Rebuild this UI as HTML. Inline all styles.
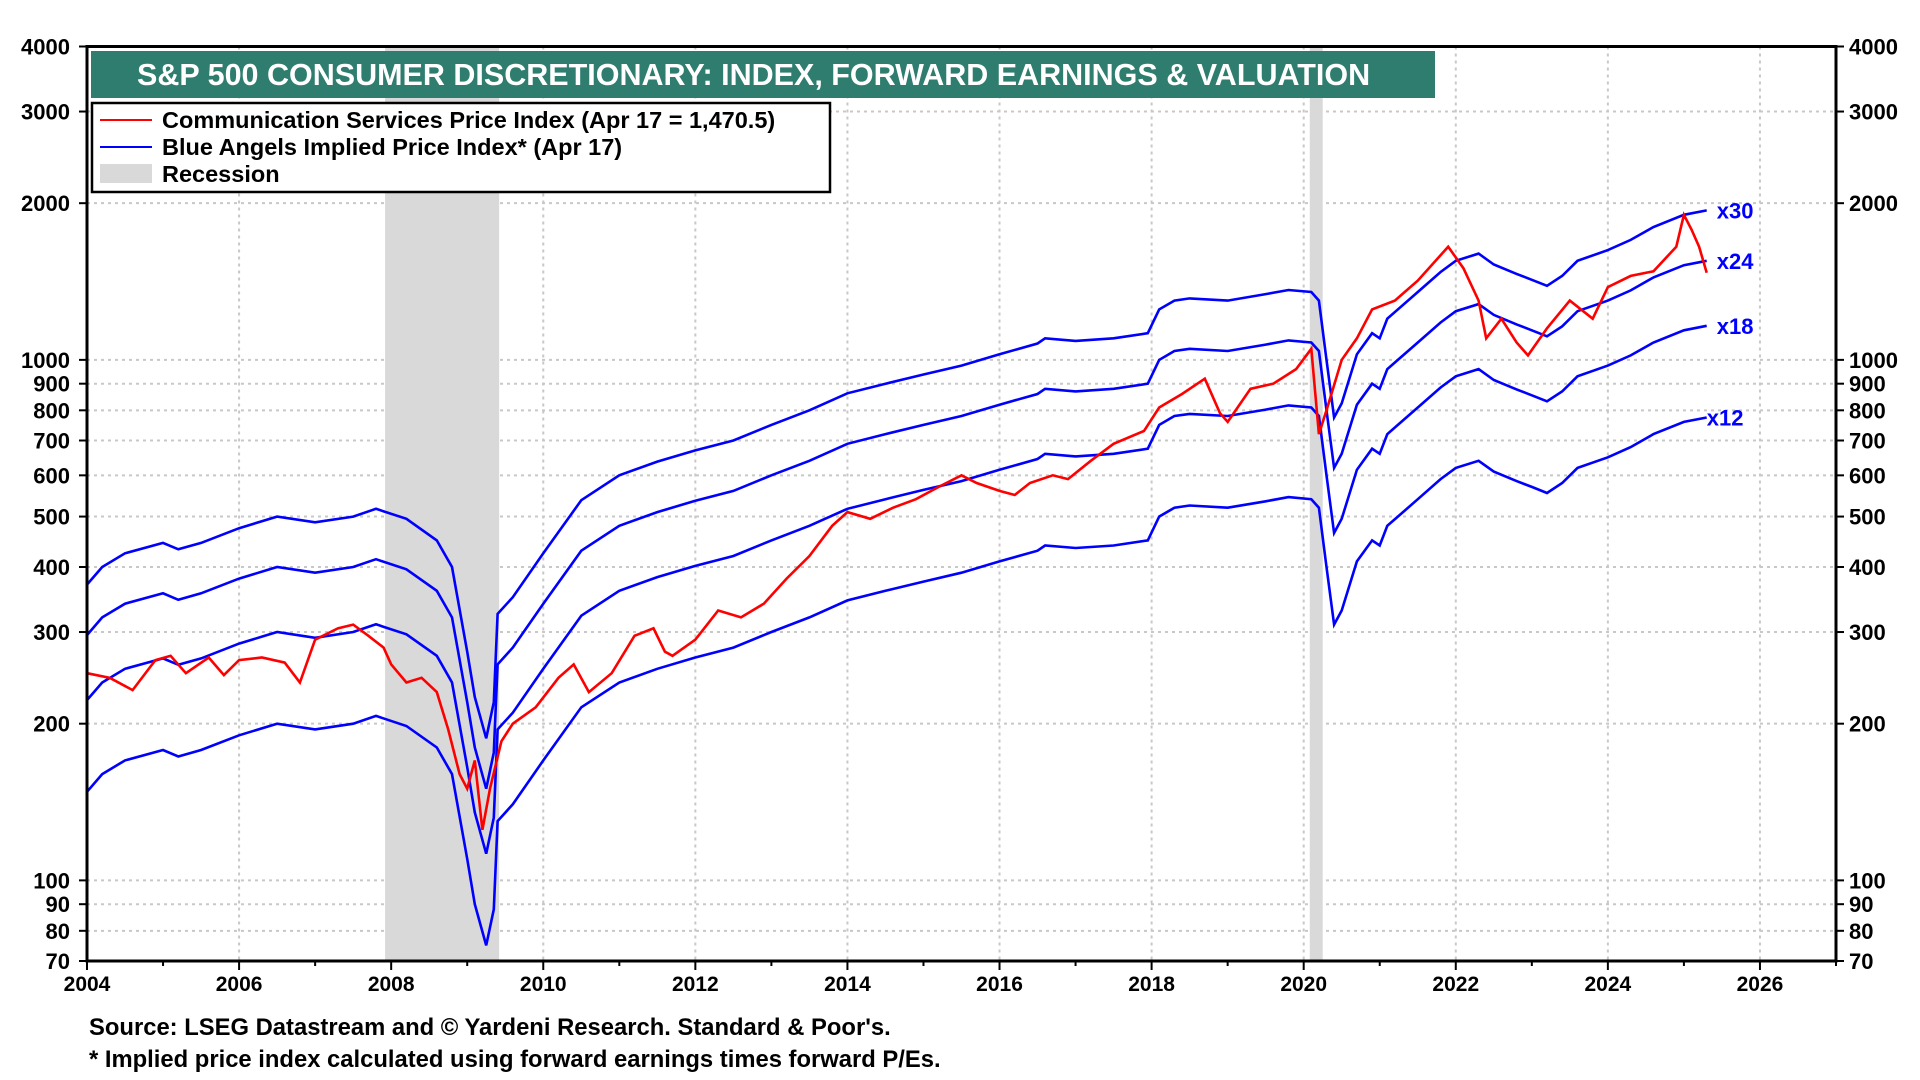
<!DOCTYPE html>
<html><head><meta charset="utf-8"><style>
body{margin:0;background:#fff;font-family:"Liberation Sans",Arial,sans-serif}
svg{display:block}
</style></head><body>
<svg id="chart" width="1920" height="1080" viewBox="0 0 1920 1080">
<g id="grid"></g>
<g id="rec"></g>
<g id="lines"></g>
<rect x="87" y="46.5" width="1749" height="914.5" fill="none" stroke="#000" stroke-width="3"/>
<g id="axes"></g>
<rect x="91" y="51" width="1344" height="47" fill="#2e7d6e"/>
<text x="137" y="85" fill="#fff" font-size="30.5" font-weight="bold">S&amp;P 500 CONSUMER DISCRETIONARY: INDEX, FORWARD EARNINGS &amp; VALUATION</text>
<g>
<rect x="92" y="103" width="738" height="89" fill="#fff" stroke="#000" stroke-width="2.5"/>
<line x1="100" y1="120" x2="152" y2="120" stroke="#f00" stroke-width="2"/>
<text x="162" y="128" font-size="23.5" font-weight="bold">Communication Services Price Index (Apr 17 = 1,470.5)</text>
<line x1="100" y1="147" x2="152" y2="147" stroke="#00f" stroke-width="2"/>
<text x="162" y="155" font-size="23.5" font-weight="bold">Blue Angels Implied Price Index* (Apr 17)</text>
<rect x="100" y="164" width="52" height="19" fill="#d9d9d9"/>
<text x="162" y="182" font-size="23.5" font-weight="bold">Recession</text>
</g>
<text x="89" y="1035" font-size="23.8" font-weight="bold">Source: LSEG Datastream and © Yardeni Research. Standard &amp; Poor's.</text>
<text x="89" y="1067" font-size="23.8" font-weight="bold">* Implied price index calculated using forward earnings times forward P/Es.</text>
</svg>
<script>
const yTicks=[4000,3000,2000,1000,900,800,700,600,500,400,300,200,100,90,80,70];
const xTicks=[2004,2006,2008,2010,2012,2014,2016,2018,2020,2022,2024,2026];
const recessions=[[2007.92,2009.42],[2020.08,2020.25]];
const multiples=[12,18,24,30];
const epsDates=[2004.0,2004.2,2004.5,2005.0,2005.2,2005.5,2006.0,2006.5,2007.0,2007.5,2007.8,2008.2,2008.6,2008.8,2009.0,2009.1,2009.25,2009.35,2009.4,2009.6,2010.0,2010.5,2011.0,2011.5,2012.0,2012.5,2013.0,2013.5,2014.0,2014.5,2015.0,2015.5,2016.0,2016.5,2016.6,2017.0,2017.5,2017.95,2018.1,2018.3,2018.5,2019.0,2019.5,2019.8,2020.1,2020.2,2020.3,2020.4,2020.5,2020.7,2020.9,2021.0,2021.1,2021.5,2021.8,2022.0,2022.3,2022.5,2022.8,2023.0,2023.2,2023.4,2023.6,2024.0,2024.3,2024.6,2025.0,2025.3];
const impliedX12=[148,160,170,178,173,178,190,200,195,200,207,198,180,160,110,90,75,88,130,140,170,215,240,255,268,280,300,320,345,360,375,390,410,430,440,435,440,450,500,520,525,520,535,545,540,520,400,310,330,410,450,440,480,540,590,620,640,610,585,570,555,580,620,650,680,720,760,775];
const priceDates=[2004.0,2004.3,2004.6,2004.9,2005.1,2005.3,2005.6,2005.8,2006.0,2006.3,2006.6,2006.8,2007.0,2007.3,2007.5,2007.7,2007.9,2008.0,2008.2,2008.4,2008.6,2008.75,2008.9,2009.0,2009.1,2009.2,2009.3,2009.45,2009.6,2009.9,2010.2,2010.4,2010.6,2010.9,2011.2,2011.45,2011.6,2011.7,2012.0,2012.3,2012.6,2012.9,2013.2,2013.5,2013.8,2014.0,2014.3,2014.6,2014.9,2015.2,2015.5,2015.7,2016.0,2016.2,2016.4,2016.7,2016.9,2017.2,2017.5,2017.9,2018.1,2018.4,2018.7,2018.9,2019.0,2019.3,2019.6,2019.9,2020.1,2020.2,2020.3,2020.5,2020.7,2020.9,2021.2,2021.5,2021.9,2022.1,2022.3,2022.4,2022.6,2022.8,2022.95,2023.2,2023.5,2023.8,2024.0,2024.3,2024.6,2024.9,2025.0,2025.1,2025.2,2025.3];
const priceValues=[250,245,232,265,270,250,268,248,265,268,262,240,290,305,310,295,280,260,240,245,230,195,160,150,170,125,150,185,200,215,245,260,230,250,295,305,275,270,290,330,320,340,380,420,480,510,495,520,540,570,600,580,560,550,580,600,590,640,690,730,810,860,920,790,760,880,900,960,1050,720,800,1000,1100,1250,1300,1420,1650,1500,1300,1100,1200,1080,1020,1150,1300,1200,1380,1450,1480,1650,1900,1780,1650,1470];
const multLabels=["x12","x18","x24","x30"];

const L=87,R=1836,T=46.5,B=961,X0=2004,X1=2027,YMAX=4000,YMIN=70;
const xs=v=>L+(v-X0)/(X1-X0)*(R-L);
const ys=v=>T+Math.log(YMAX/v)/Math.log(YMAX/YMIN)*(B-T);
const NS="http://www.w3.org/2000/svg";
function mk(tag,attrs,parent){const e=document.createElementNS(NS,tag);for(const k in attrs)e.setAttribute(k,attrs[k]);parent.appendChild(e);return e;}
const grid=document.getElementById('grid'),axes=document.getElementById('axes'),rec=document.getElementById('rec'),lines=document.getElementById('lines');
yTicks.forEach(v=>{
  const y=ys(v);
  const g=mk('line',{x1:L,x2:R,y1:y,y2:y,stroke:'#c8c8c8','stroke-width':2,'stroke-dasharray':'3,4'},grid);
  
  
  const t1=mk('text',{x:L-17,y:y+8,'font-size':22,'font-weight':'bold','text-anchor':'end'},axes);
  t1.textContent=v;
  
  
  const t2=mk('text',{x:R+13,y:y+8,'font-size':22,'font-weight':'bold'},axes);
  t2.textContent=v;
  
  
  mk('line',{x1:L-8,x2:L,y1:y,y2:y,stroke:'#000','stroke-width':2},axes);
  mk('line',{x1:R,x2:R+8,y1:y,y2:y,stroke:'#000','stroke-width':2},axes);
});
xTicks.forEach(v=>{
  const x=xs(v);
  const g=mk('line',{x1:x,x2:x,y1:T,y2:B,stroke:'#c8c8c8','stroke-width':2,'stroke-dasharray':'3,4'},grid);
  
  
  const t=mk('text',{x:x,y:B+30,'font-size':21,'font-weight':'bold','text-anchor':'middle'},axes);
  t.textContent=v;
  
  
});
for(let yr=X0;yr<=X1;yr++){mk('line',{x1:xs(yr),x2:xs(yr),y1:B,y2:B+(yr%2?5:9),stroke:'#000','stroke-width':2},axes);}
recessions.forEach(r=>{
  const e=mk('rect',{x:xs(r[0]),y:T,width:xs(r[1])-xs(r[0]),height:B-T,fill:'#d9d9d9'},rec);
  
  
});
multiples.forEach((m,i)=>{
  const pts=epsDates.map((d,j)=>xs(d).toFixed(1)+','+ys(impliedX12[j]/12*m).toFixed(1)).join(' ');
  const p=mk('polyline',{points:pts,fill:'none',stroke:'#0000ff','stroke-width':2.6},lines);
  
  
  const lx=xs(epsDates[epsDates.length-1])+(m===12?0:10), ly=ys(impliedX12[impliedX12.length-1]/12*m)+8;
  const t=mk('text',{x:lx,y:ly,'font-size':22,'font-weight':'bold',fill:'#0000ff'},lines);
  t.textContent=multLabels[i];
  
  
});
const pp=mk('polyline',{points:priceDates.map((d,j)=>xs(d).toFixed(1)+','+ys(priceValues[j]).toFixed(1)).join(' '),fill:'none',stroke:'#ff0000','stroke-width':2.6},lines);


</script>
</body></html>
